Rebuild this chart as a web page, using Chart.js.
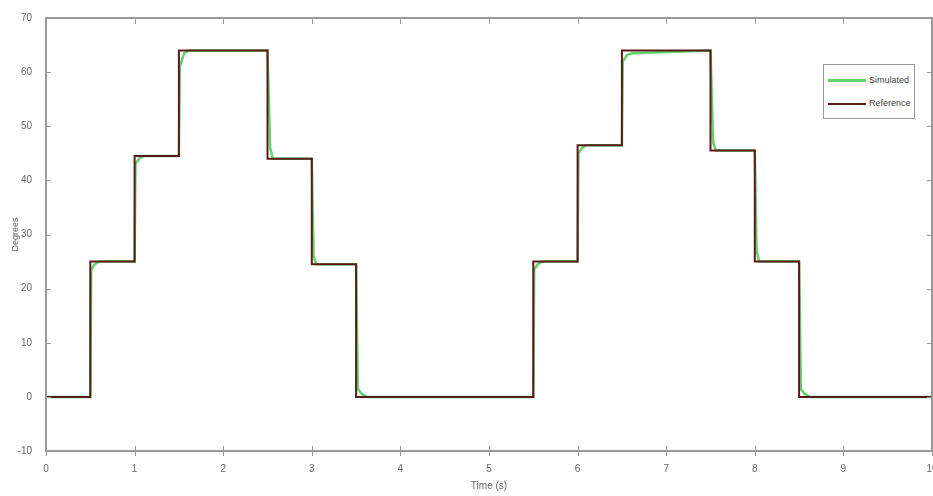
<!DOCTYPE html>
<html>
<head>
<meta charset="utf-8">
<script src="https://cdn.jsdelivr.net/npm/chart.js@4.4.1/dist/chart.umd.min.js"></script>
<style>
  html, body { margin: 0; padding: 0; background: #fff; }
  #wrap { position: relative; width: 933px; height: 496px; }
  #legend {
    position: absolute; left: 823px; top: 64px; width: 90px; height: 53px;
    border: 1px solid #999; background: #fff; font: 9px "Liberation Sans", Arial, sans-serif; color: #444;
  }
  #legend .row { position: absolute; left: 4px; height: 10px; line-height: 10px; white-space: nowrap; }
  #legend .sw { display: inline-block; width: 38px; height: 0; vertical-align: middle; margin-right: 3px; }
</style>
</head>
<body>
<div id="wrap">
  <canvas id="c" width="933" height="496"></canvas>
  <div id="legend">
    <div class="row" style="top:10px"><span class="sw" style="border-top:3px solid #62d36a"></span>Simulated</div>
    <div class="row" style="top:33px"><span class="sw" style="border-top:2px solid #5a1a1a"></span>Reference</div>
  </div>
</div>
<script>
// Reference command (step changes) and simulated response.
const refT = [0, 0.5, 1, 1.5, 2.5, 3, 3.5, 5.5, 6, 6.5, 7.5, 8, 8.5, 10];
const refV = [0, 25, 44.5, 64, 44, 24.5, 0, 25, 46.5, 64, 45.5, 25, 0, 0];

const simT = [0, 0.5, 0.51, 0.55, 0.6, 1.0, 1.01, 1.05, 1.1, 1.5, 1.51, 1.56, 1.62,
  2.5, 2.53, 2.56, 3.0, 3.02, 3.05, 3.5, 3.52, 3.56, 3.62,
  5.5, 5.51, 5.55, 5.6, 6.0, 6.01, 6.05, 6.1, 6.5, 6.51, 6.56, 6.62,
  7.5, 7.53, 7.56, 8.0, 8.02, 8.05, 8.5, 8.52, 8.56, 8.62, 10];
const simV = [0, 0, 23.5, 24.5, 25, 25, 43, 44, 44.5, 44.5, 61, 63.5, 64,
  64, 46, 44, 44, 26, 24.5, 24.5, 1.5, 0.6, 0,
  0, 23.5, 24.5, 25, 25, 45, 46, 46.5, 46.5, 62, 63.2, 63.5,
  64, 47, 45.5, 45.5, 27, 25, 25, 1.5, 0.6, 0, 0];

const xTicks = [0, 1, 2, 3, 4, 5, 6, 7, 8, 9, 10];
const yTicks = [-10, 0, 10, 20, 30, 40, 50, 60, 70];

const AXIS = "#999", TXT = "#666";
const pts = (xs, ys) => xs.map((x, i) => ({ x, y: ys[i] }));

// box round the plot + small tick marks on all four sides
const frame = {
  id: "frame",
  afterDraw(chart) {
    const { ctx, chartArea: a, scales: { x, y } } = chart;
    ctx.save();
    ctx.strokeStyle = AXIS; ctx.lineWidth = 2;
    ctx.strokeRect(a.left, a.top, a.right - a.left, a.bottom - a.top);
    ctx.lineWidth = 1;
    ctx.beginPath();
    xTicks.forEach((v) => {
      const px = Math.round(x.getPixelForValue(v)) + 0.5;
      ctx.moveTo(px, a.bottom - 5); ctx.lineTo(px, a.bottom + 5);
      ctx.moveTo(px, a.top); ctx.lineTo(px, a.top + 6);
    });
    yTicks.forEach((v) => {
      const py = Math.round(y.getPixelForValue(v)) + 0.5;
      ctx.moveTo(a.left, py); ctx.lineTo(a.left + 5, py);
      ctx.moveTo(a.right - 5, py); ctx.lineTo(a.right, py);
    });
    ctx.stroke();
    ctx.restore();
  },
};

new Chart(document.getElementById("c"), {
  type: "scatter",
  data: {
    datasets: [
      {
        label: "Reference", data: pts(refT, refV), showLine: true, stepped: "before",
        borderColor: "#5a1a1a", borderWidth: 2, pointRadius: 0, order: 0,
      },
      {
        label: "Simulated", data: pts(simT, simV), showLine: true,
        borderColor: "#62d36a", borderWidth: 2.5, pointRadius: 0, order: 1,
      },
    ],
  },
  options: {
    responsive: false,
    animation: false,
    layout: { padding: { top: 18, right: 1, left: 10, bottom: 0 } },
    plugins: { legend: { display: false }, tooltip: { enabled: false } },
    scales: {
      x: {
        type: "linear", min: 0, max: 10,
        afterBuildTicks: (s) => { s.ticks = xTicks.map((v) => ({ value: v })); },
        afterFit: (s) => { s.height = 45; s.paddingRight = 0; s.paddingLeft = 0; },
        grid: { display: false },
        border: { display: false },
        ticks: { color: TXT, font: { size: 10, family: "Liberation Sans" }, padding: 4, maxRotation: 0 },
        title: { display: true, text: "Time (s)", color: TXT, font: { size: 10, family: "Liberation Sans" }, padding: { top: 2 } },
      },
      y: {
        type: "linear", min: -10, max: 70,
        afterBuildTicks: (s) => { s.ticks = yTicks.map((v) => ({ value: v })); },
        afterFit: (s) => { s.width = 36; },
        grid: { display: false },
        border: { display: false },
        ticks: { color: TXT, font: { size: 10, family: "Liberation Sans" }, padding: 6 },
        title: { display: true, text: "Degrees", color: TXT, font: { size: 9, family: "Liberation Sans" }, padding: 0 },
      },
    },
  },
  plugins: [frame],
});
</script>
</body>
</html>
